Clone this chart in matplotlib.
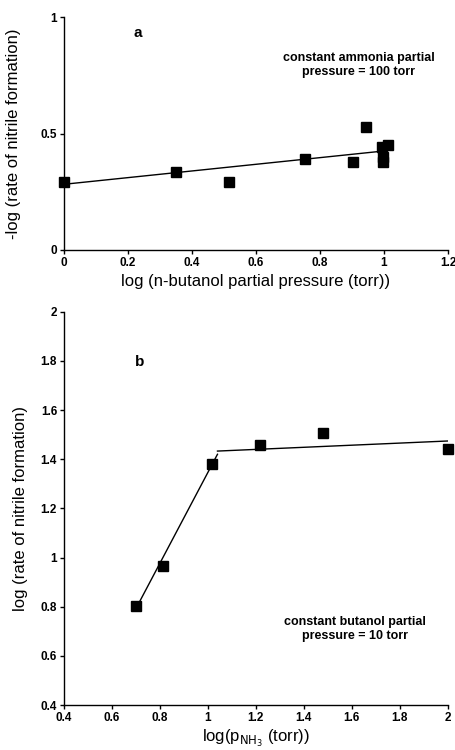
import matplotlib.pyplot as plt
from matplotlib.ticker import FuncFormatter

plt.rcParams['font.family'] = ['Liberation Sans', 'DejaVu Sans']

# 图 a：恒定氨分压
a_x = [0.0, 0.35, 0.515, 0.753, 0.903, 0.943, 0.993, 1.011, 0.998, 0.998]
a_y = [0.29, 0.336, 0.29, 0.39, 0.376, 0.529, 0.443, 0.449, 0.40, 0.378]
a_fit_x = [0.0, 1.0]
a_fit_y = [0.282, 0.425]

# 图 b：恒定丁醇分压
b_x = [0.699, 0.811, 1.019, 1.217, 1.479, 2.0]
b_y = [0.803, 0.967, 1.379, 1.458, 1.508, 1.443]
b_fit1_x = [0.715, 1.04]
b_fit1_y = [0.82, 1.42]
b_fit2_x = [1.04, 2.0]
b_fit2_y = [1.433, 1.474]


def fmt(v, pos):
    return '%g' % round(v, 2)


def style_axes(ax):
    ax.spines['top'].set_visible(False)
    ax.spines['right'].set_visible(False)
    for s in ('left', 'bottom'):
        ax.spines[s].set_linewidth(1.0)
    ax.tick_params(direction='out', length=3, width=1, labelsize=8.5, pad=2)
    ax.xaxis.set_major_formatter(FuncFormatter(fmt))
    ax.yaxis.set_major_formatter(FuncFormatter(fmt))
    for lbl in ax.get_xticklabels() + ax.get_yticklabels():
        lbl.set_fontweight('bold')


fig = plt.figure(figsize=(4.56, 7.5), dpi=100)

# ---- a ----
ax1 = fig.add_axes([0.1404, 0.6667, 0.8421, 0.3106])
ax1.plot(a_fit_x, a_fit_y, color='black', lw=1.0)
ax1.plot(a_x, a_y, 's', color='black', ms=6.5, clip_on=False)
ax1.set_xlim(0, 1.2)
ax1.set_ylim(0, 1)
ax1.set_xticks([0, 0.2, 0.4, 0.6, 0.8, 1.0, 1.2])
ax1.set_yticks([0, 0.5, 1])
style_axes(ax1)
ax1.set_xlabel('log (n-butanol partial pressure (torr))', fontsize=12, labelpad=4)
ax1.set_ylabel('-log (rate of nitrile formation)', fontsize=12, labelpad=14)
ax1.text(0.23, 0.93, 'a', fontsize=11, fontweight='bold', ha='center', va='center')
ax1.text(0.92, 0.795, 'constant ammonia partial\npressure = 100 torr',
         fontsize=9, fontweight='bold', ha='center', va='center', linespacing=1.2)

# ---- b ----
ax2 = fig.add_axes([0.1404, 0.06, 0.8413, 0.5244])
ax2.plot(b_fit1_x, b_fit1_y, color='black', lw=1.0)
ax2.plot(b_fit2_x, b_fit2_y, color='black', lw=1.0)
ax2.plot(b_x, b_y, 's', color='black', ms=6.5, clip_on=False)
ax2.set_xlim(0.4, 2.0)
ax2.set_ylim(0.4, 2.0)
ax2.set_xticks([0.4, 0.6, 0.8, 1.0, 1.2, 1.4, 1.6, 1.8, 2.0])
ax2.set_yticks([0.4, 0.6, 0.8, 1.0, 1.2, 1.4, 1.6, 1.8, 2.0])
style_axes(ax2)
ax2.set_xlabel('log(p$_{\\mathrm{NH_3}}$ (torr))', fontsize=12, labelpad=3)
ax2.set_ylabel('log (rate of nitrile formation)', fontsize=12, labelpad=9)
ax2.text(0.717, 1.797, 'b', fontsize=11, fontweight='bold', ha='center', va='center')
ax2.text(1.613, 0.71, 'constant butanol partial\npressure = 10 torr',
         fontsize=9, fontweight='bold', ha='center', va='center', linespacing=1.2)

fig.savefig('out.png', dpi=100)
